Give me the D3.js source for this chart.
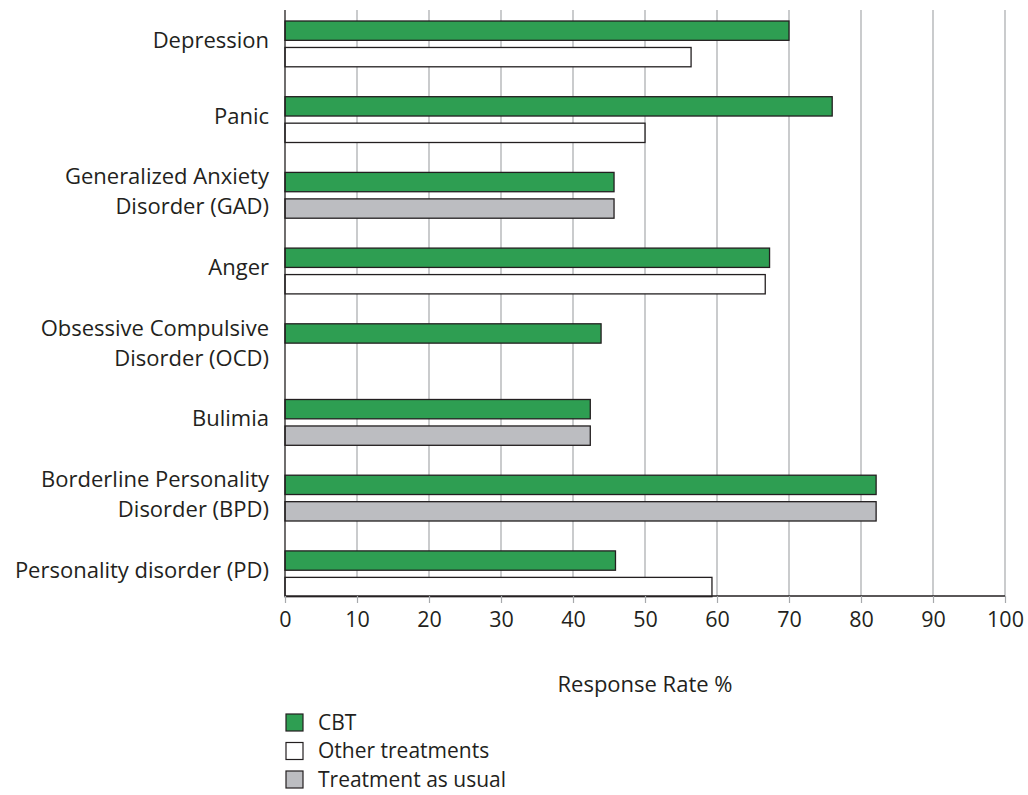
<!DOCTYPE html>
<html>
<head>
<meta charset="utf-8">
<script src="https://cdn.jsdelivr.net/npm/d3@7/dist/d3.min.js"></script>
<style>
  html, body { margin: 0; padding: 0; background: #fff; }
  svg text { font-family: "Open Sans", "Noto Sans", sans-serif; fill: #231f20; }
</style>
</head>
<body>
<svg id="chart" width="1028" height="795"></svg>
<script>
// Disorders (two-line labels split with "\n")
const categories = [
  "Depression",
  "Panic",
  "Generalized Anxiety\nDisorder (GAD)",
  "Anger",
  "Obsessive Compulsive\nDisorder (OCD)",
  "Bulimia",
  "Borderline Personality\nDisorder (BPD)",
  "Personality disorder (PD)"
];
// Response rates (%) for CBT
const cbtValues = [70, 76, 45.7, 67.3, 43.9, 42.4, 82.1, 45.9];
// Comparison arm: which kind, and its response rate (null = none reported)
const comparisonKind = ["other", "other", "tau", "other", null, "tau", "tau", "other"];
const comparisonValues = [56.4, 50, 45.7, 66.7, null, 42.4, 82.1, 59.3];
const xTicks = [0, 10, 20, 30, 40, 50, 60, 70, 80, 90, 100];
const legendLabels = ["CBT", "Other treatments", "Treatment as usual"];
const legendKeys = ["cbt", "other", "tau"];

const fills = { cbt: "#2e9e52", other: "#ffffff", tau: "#bcbdc1" };
const FONT = 22;

const svg = d3.select("#chart");

const x = d3.scaleLinear().domain([0, 100]).range([285, 1005]);
const y = d3.scaleBand().domain(categories).range([21, 596.7]).paddingInner(0.395).paddingOuter(0);
const ySub = d3.scaleBand().domain([0, 1]).range([0, y.bandwidth()]).paddingInner(0.27);

// vertical gridlines
svg.append("g")
  .selectAll("line")
  .data(xTicks.slice(1))
  .join("line")
  .attr("x1", d => x(d)).attr("x2", d => x(d))
  .attr("y1", 10).attr("y2", 596)
  .attr("stroke", "#a7a9ac").attr("stroke-width", 1.2);

// bars
const rows = categories.map((c, i) => ({ c, i }));
const bars = svg.append("g");
bars.selectAll("rect.cbt")
  .data(rows)
  .join("rect")
  .attr("class", "cbt")
  .attr("x", x(0))
  .attr("y", d => y(d.c) + ySub(0))
  .attr("width", d => x(cbtValues[d.i]) - x(0))
  .attr("height", ySub.bandwidth())
  .attr("fill", fills.cbt)
  .attr("stroke", "#231f20").attr("stroke-width", 1.3);

bars.selectAll("rect.cmp")
  .data(rows.filter(d => comparisonValues[d.i] != null))
  .join("rect")
  .attr("class", "cmp")
  .attr("x", x(0))
  .attr("y", d => y(d.c) + ySub(1))
  .attr("width", d => x(comparisonValues[d.i]) - x(0))
  .attr("height", ySub.bandwidth())
  .attr("fill", d => fills[comparisonKind[d.i]])
  .attr("stroke", "#231f20").attr("stroke-width", 1.3);

// x axis
const xAxis = d3.axisBottom(x).tickValues(xTicks).tickSize(7).tickPadding(9).tickFormat(d3.format("d"));
const gx = svg.append("g").attr("transform", "translate(0,596)").call(xAxis);
gx.select(".domain").attr("stroke", "#231f20").attr("stroke-width", 1.3)
  .attr("d", `M${x(0)},0H${x(100)}`);
gx.selectAll(".tick line").attr("stroke", "#a7a9ac").attr("stroke-width", 1.2);
gx.selectAll(".tick text").attr("font-size", FONT - 0.5).attr("fill", "#231f20")
  .style("font-family", '"Open Sans", "Noto Sans", sans-serif');

// left axis line
svg.append("line")
  .attr("x1", x(0)).attr("x2", x(0)).attr("y1", 10).attr("y2", 596)
  .attr("stroke", "#231f20").attr("stroke-width", 1.3);

// category labels
const labels = svg.append("g");
rows.forEach(d => {
  const lines = d.c.split("\n");
  const cy = y(d.c) + y.bandwidth() / 2;
  const lh = 30;
  const t = labels.append("text")
    .attr("text-anchor", "end")
    .attr("font-size", FONT);
  lines.forEach((ln, k) => {
    t.append("tspan")
      .attr("x", 269)
      .attr("y", cy + (k - (lines.length - 1) / 2) * lh + 4)
      .text(ln);
  });
});

// x axis title
svg.append("text")
  .attr("x", x(50)).attr("y", 692)
  .attr("text-anchor", "middle")
  .attr("font-size", FONT)
  .text("Response Rate %");

// legend
const lg = svg.append("g").attr("transform", "translate(286,714)");
legendKeys.forEach((k, i) => {
  lg.append("rect")
    .attr("x", 0).attr("y", i * 28.5)
    .attr("width", 17).attr("height", 17)
    .attr("fill", fills[k]).attr("stroke", "#231f20").attr("stroke-width", 1.2);
  lg.append("text")
    .attr("x", 32).attr("y", i * 28.5 + 15.5)
    .attr("font-size", FONT - 1)
    .text(legendLabels[i]);
});
</script>
</body>
</html>
